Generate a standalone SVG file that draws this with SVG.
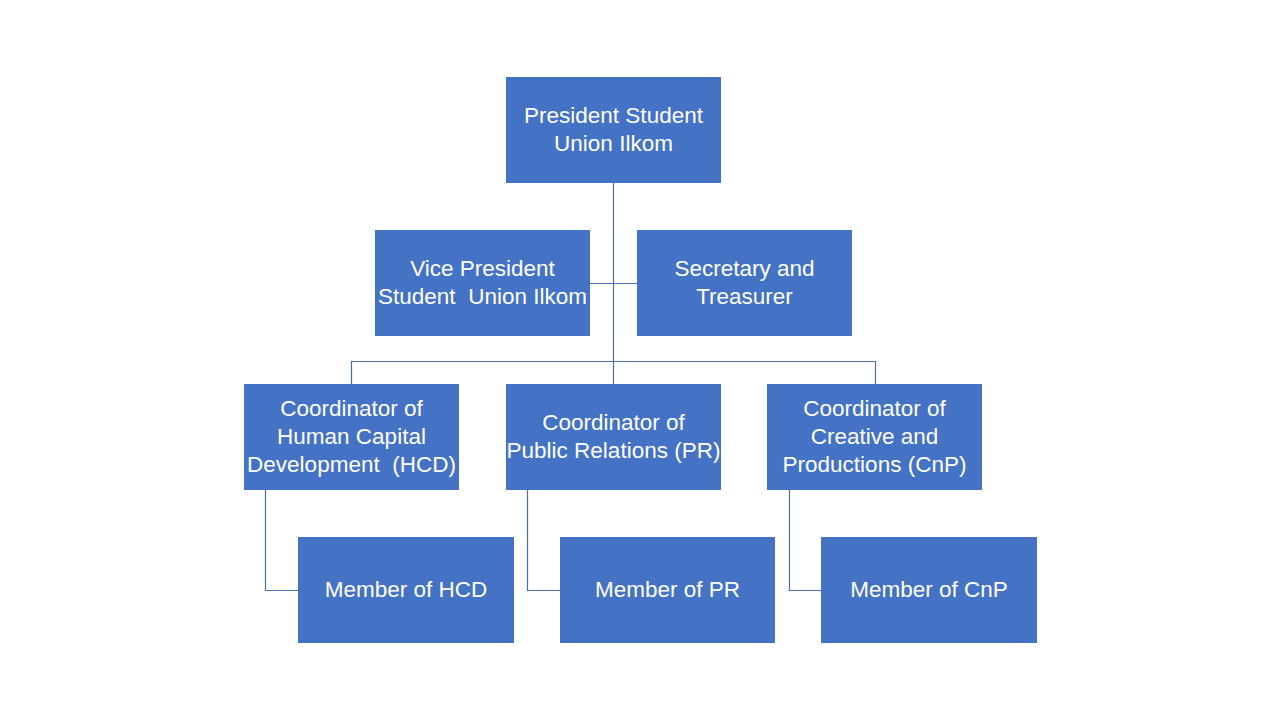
<svg xmlns="http://www.w3.org/2000/svg" width="1280" height="720" viewBox="0 0 1280 720">
<style>
.box{fill:#4472C4}
.t{font-family:"Liberation Sans",Arial,sans-serif;font-size:22.5px;fill:#ffffff;text-anchor:middle}
.c{fill:none;stroke:#4A6FB0;stroke-width:1.2}
</style>
<rect width="1280" height="720" fill="#ffffff"/>
<g id="connectors">
<path class="c" d="M613.5,183 V384"/>
<path class="c" d="M590,283.5 H637" stroke="#8FAADC"/>
<path class="c" d="M351.5,384 V361.5 H875.5 V384"/>
<path class="c" d="M265.5,490 V590.5 H298"/>
<path class="c" d="M527.5,490 V590.5 H560"/>
<path class="c" d="M789.5,490 V590.5 H821"/>
</g>
<g id="president"><rect class="box" x="506" y="77" width="215" height="106"/>
<text class="t" x="613.5" y="123">President Student</text><text class="t" x="613.5" y="151">Union Ilkom</text></g>
<g id="vice-president"><rect class="box" x="375" y="230" width="215" height="106"/>
<text class="t" x="482.5" y="276">Vice President</text><text class="t" x="482.5" y="304" xml:space="preserve">Student  Union Ilkom</text></g>
<g id="secretary"><rect class="box" x="637" y="230" width="215" height="106"/>
<text class="t" x="744.5" y="276">Secretary and</text><text class="t" x="744.5" y="304">Treasurer</text></g>
<g id="coord-hcd"><rect class="box" x="244" y="384" width="215" height="106"/>
<text class="t" x="351.5" y="416">Coordinator of</text><text class="t" x="351.5" y="444">Human Capital</text><text class="t" x="351.5" y="472" xml:space="preserve">Development  (HCD)</text></g>
<g id="coord-pr"><rect class="box" x="506" y="384" width="215" height="106"/>
<text class="t" x="613.5" y="430">Coordinator of</text><text class="t" x="613.5" y="458">Public Relations (PR)</text></g>
<g id="coord-cnp"><rect class="box" x="767" y="384" width="215" height="106"/>
<text class="t" x="874.5" y="416">Coordinator of</text><text class="t" x="874.5" y="444">Creative and</text><text class="t" x="874.5" y="472">Productions (CnP)</text></g>
<g id="member-hcd"><rect class="box" x="298" y="537" width="216" height="106"/>
<text class="t" x="406" y="597">Member of HCD</text></g>
<g id="member-pr"><rect class="box" x="560" y="537" width="215" height="106"/>
<text class="t" x="667.5" y="597">Member of PR</text></g>
<g id="member-cnp"><rect class="box" x="821" y="537" width="216" height="106"/>
<text class="t" x="929" y="597">Member of CnP</text></g>
</svg>
